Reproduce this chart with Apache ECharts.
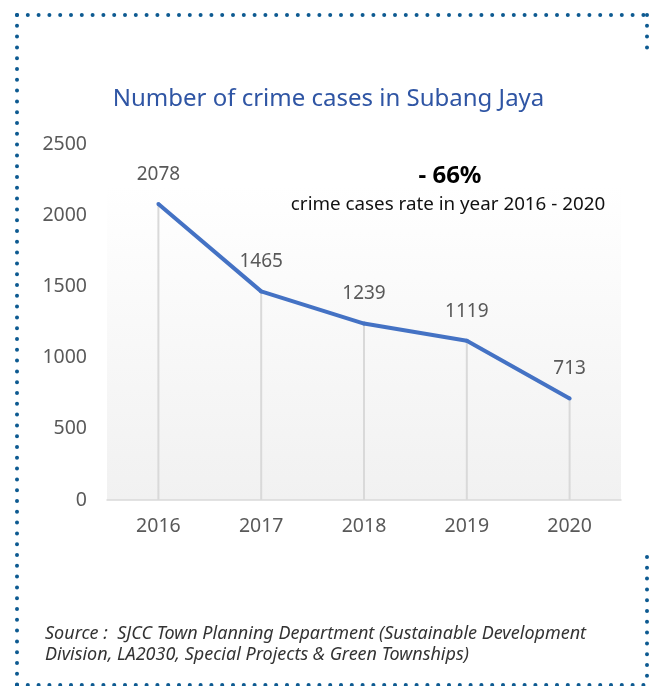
<!DOCTYPE html>
<html>
<head>
<meta charset="utf-8">
<script src="https://cdn.jsdelivr.net/npm/echarts@6/dist/echarts.min.js"></script>
<style>
html,body{margin:0;padding:0;background:#fff;}
#chart{width:657px;height:686px;}
</style>
</head>
<body>
<div id="chart"></div>
<script>
var years = ['2016', '2017', '2018', '2019', '2020'];
var cases = [2078, 1465, 1239, 1119, 713];
var titleText = 'Number of crime cases in Subang Jaya';
var noteBig = '- 66%';
var noteSmall = 'crime cases rate in year 2016 - 2020';
var sourceLines = ['Source :  SJCC Town Planning Department (Sustainable Development', 'Division, LA2030, Special Projects & Green Townships)'];

var FONT = '"Noto Sans", "Open Sans", sans-serif';
var border = '#0d5a91';
function dotted(points) {
  return {
    type: 'polyline', silent: true,
    shape: { points: points },
    style: { stroke: border, lineWidth: 4, lineDash: [0, 10.8], lineCap: 'round', fill: null }
  };
}

var chart = echarts.init(document.getElementById('chart'), null, { renderer: 'canvas' });
chart.setOption({
  backgroundColor: '#ffffff',
  animation: false,
  title: {
    text: titleText, left: 'center', top: 82,
    textStyle: { color: '#2f55a4', fontSize: 24, fontWeight: 'normal', fontFamily: FONT }
  },
  grid: {
    left: 107, right: 36, top: 144, bottom: 186, containLabel: false,
    show: true, borderWidth: 0,
    backgroundColor: new echarts.graphic.LinearGradient(0, 0, 0, 1, [
      { offset: 0, color: '#ffffff' },
      { offset: 0.12, color: '#ffffff' },
      { offset: 1, color: '#f1f1f1' }
    ])
  },
  xAxis: {
    type: 'category', data: years, boundaryGap: true,
    axisLine: { show: true, lineStyle: { color: '#d9d9d9', width: 1.5 } },
    axisTick: { show: false },
    axisLabel: { color: '#595959', fontSize: 19.5, margin: 16, fontFamily: FONT }
  },
  yAxis: {
    type: 'value', min: 0, max: 2500, interval: 500,
    axisLine: { show: false }, axisTick: { show: false }, splitLine: { show: false },
    axisLabel: { color: '#595959', fontSize: 19.5, margin: 20, fontFamily: FONT,
      formatter: function (v) { return String(v); } }
  },
  series: [
    {
      type: 'bar', data: cases, barWidth: 2, silent: true, z: 1,
      itemStyle: { color: '#d9d9d9' }
    },
    {
      type: 'line', data: cases, z: 3, symbol: 'circle', symbolSize: 4, showSymbol: true,
      itemStyle: { color: '#4472c4' },
      lineStyle: { color: '#4472c4', width: 4 },
      label: {
        show: true, position: 'top', distance: 18,
        color: '#595959', fontSize: 19, fontFamily: FONT
      }
    }
  ],
  graphic: [
    dotted([[17, 15], [647, 15]]),
    dotted([[17, 15], [17, 686]]),
    dotted([[647, 15], [647, 54]]),
    dotted([[647, 557], [647, 686]]),
    dotted([[17, 685], [647, 685]]),
    {
      type: 'text', silent: true, x: 450, y: 176,
      style: { text: noteBig, fill: '#000', font: 'bold 24px ' + FONT, align: 'center', verticalAlign: 'middle' }
    },
    {
      type: 'text', silent: true, x: 448, y: 205,
      style: { text: noteSmall, fill: '#111', font: '18.8px ' + FONT, align: 'center', verticalAlign: 'middle' }
    },
    {
      type: 'text', silent: true, x: 45, y: 623,
      style: { text: sourceLines.join('\n'), fill: '#333', font: 'italic 18px ' + FONT, lineHeight: 21 }
    }
  ]
});
</script>
</body>
</html>
